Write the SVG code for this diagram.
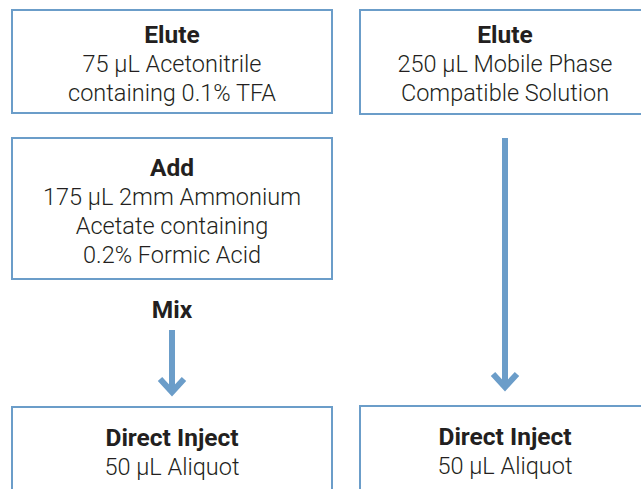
<svg xmlns="http://www.w3.org/2000/svg" width="641" height="489" viewBox="0 0 641 489">
<style>
.box{fill:#fff;stroke:#6b9dc9;stroke-width:2}
.t{font-family:Roboto,"Liberation Sans",Arial,sans-serif;font-size:23.5px;font-weight:300;fill:#231f20;text-anchor:middle}
.b{font-weight:bold;font-size:24.5px}
.shaft{stroke:#6b9dc9;stroke-width:6;fill:none}
.head{stroke:#6b9dc9;stroke-width:6;fill:none;stroke-linejoin:miter}
</style>
<rect width="641" height="489" fill="#fff"/>
<g id="elute-left">
<rect class="box" x="12" y="10" width="320" height="103"/>
<text class="t b" x="172" y="43">Elute</text>
<text class="t" x="172" y="72">75 µL Acetonitrile</text>
<text class="t" x="172" y="101">containing 0.1% TFA</text>
</g>
<g id="elute-right">
<rect class="box" x="360" y="10" width="300" height="104"/>
<text class="t b" x="505" y="43">Elute</text>
<text class="t" x="505" y="72">250 µL Mobile Phase</text>
<text class="t" x="505" y="101">Compatible Solution</text>
</g>
<g id="add">
<rect class="box" x="12" y="138" width="320" height="141"/>
<text class="t b" x="172" y="176">Add</text>
<text class="t" x="172" y="205">175 µL 2mm Ammonium</text>
<text class="t" x="172" y="234">Acetate containing</text>
<text class="t" x="172" y="263">0.2% Formic Acid</text>
</g>
<g id="mix-label">
<text class="t b" x="172" y="318">Mix</text>
</g>
<g id="inject-left">
<rect class="box" x="12" y="407" width="320" height="100"/>
<text class="t b" x="172" y="446">Direct Inject</text>
<text class="t" x="172" y="475">50 µL Aliquot</text>
</g>
<g id="inject-right">
<rect class="box" x="360" y="406" width="300" height="100"/>
<text class="t b" x="505" y="445">Direct Inject</text>
<text class="t" x="505" y="474">50 µL Aliquot</text>
</g>
<g id="connectors">
<line class="shaft" x1="172" y1="330" x2="172" y2="393"/>
<polyline class="head" points="160,379 172,392 184,379"/>
<line class="shaft" x1="505" y1="138" x2="505" y2="388"/>
<polyline class="head" points="493,374 505,387 517,374"/>
</g>
</svg>
